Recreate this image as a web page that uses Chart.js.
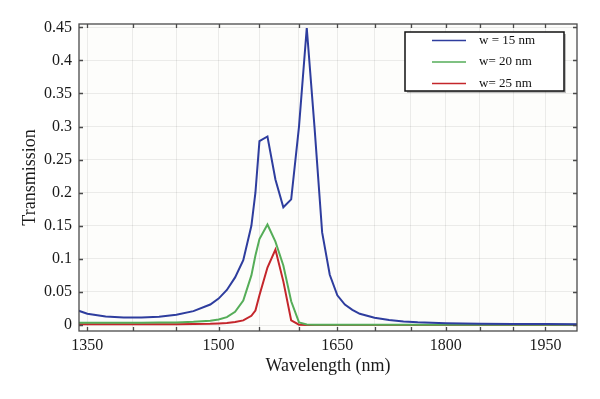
<!DOCTYPE html>
<html>
<head>
<meta charset="utf-8">
<script src="https://cdn.jsdelivr.net/npm/chart.js@4.4.0/dist/chart.umd.min.js"></script>
<style>
  html, body { margin: 0; padding: 0; background: #ffffff; }
  #wrap { width: 600px; height: 399px; }
</style>
</head>
<body>
<div id="wrap"><canvas id="myChart" width="600" height="399"></canvas></div>
<script>
// wavelength samples (nm)
let wavelengths = [1340, 1350, 1370, 1390, 1410, 1430, 1450, 1470, 1490, 1500, 1510, 1520, 1530, 1540, 1545,
    1550, 1560, 1570, 1580, 1590, 1600, 1610, 1620, 1630, 1640, 1650, 1660, 1670, 1680, 1700, 1720, 1740,
    1760, 1800, 1850, 1900, 1950, 2000];

let seriesNames = ['w = 15 nm', 'w= 20 nm', 'w= 25 nm'];

let trans15 = [0.022, 0.017, 0.013, 0.0115, 0.0115, 0.0125, 0.0155, 0.021, 0.031, 0.040, 0.053, 0.072, 0.098, 0.15, 0.20,
    0.278, 0.285, 0.22, 0.178, 0.19, 0.30, 0.449, 0.30, 0.14, 0.076, 0.045, 0.031, 0.023, 0.017, 0.011, 0.0075, 0.0055,
    0.0042, 0.0028, 0.002, 0.0016, 0.0014, 0.0012];

let trans20 = [0.0035, 0.0035, 0.0035, 0.0035, 0.0035, 0.0038, 0.004, 0.0048, 0.0065, 0.0085, 0.012, 0.02, 0.037, 0.075, 0.105,
    0.13, 0.152, 0.126, 0.09, 0.036, 0.004, 0.001, 0.0005, 0.0004, 0.0004, 0.0004, 0.0004, 0.0004, 0.0004, 0.0004, 0.0004, 0.0004,
    0.0004, 0.0004, 0.0004, 0.0004, 0.0004, 0.0004];

let trans25 = [0.0012, 0.0012, 0.0012, 0.0012, 0.0012, 0.0012, 0.0013, 0.0016, 0.002, 0.0025, 0.003, 0.0045, 0.007, 0.014, 0.022,
    0.045, 0.087, 0.114, 0.066, 0.007, 0.0005, 0.0002, 0.0002, 0.0002, 0.0002, 0.0002, 0.0002, 0.0002, 0.0002, 0.0002, 0.0002, 0.0002,
    0.0002, 0.0002, 0.0002, 0.0002, 0.0002, 0.0002];

let xTicks = [1350, 1400, 1450, 1500, 1550, 1600, 1650, 1700, 1750, 1800, 1850, 1900, 1950];
let xLabels = [1350, 1500, 1650, 1800, 1950];
let yTicks = [0, 0.05, 0.1, 0.15, 0.2, 0.25, 0.3, 0.35, 0.4, 0.45];
let yLabels = ['0', '0.05', '0.1', '0.15', '0.2', '0.25', '0.3', '0.35', '0.4', '0.45'];

let colors = ['#2e3d9e', '#55ad58', '#c4262b'];

function points(values){
    return wavelengths.map(function(w, i){ return {x: w, y: values[i]}; });
}

const serif = "'Liberation Serif', 'DejaVu Serif', serif";

// plot background, box, inward tick marks and the legend
const framePlugin = {
    id: 'frame',
    beforeDraw(chart){
        const a = chart.chartArea, ctx = chart.ctx;
        ctx.save();
        ctx.fillStyle = '#fdfdfb';
        ctx.fillRect(a.left, a.top, a.right - a.left, a.bottom - a.top);
        ctx.restore();
    },
    afterDraw(chart){
        const a = chart.chartArea, ctx = chart.ctx;
        const xs = chart.scales.x, ys = chart.scales.y;
        ctx.save();
        ctx.strokeStyle = '#4a4a4a';
        ctx.lineWidth = 1.3;
        ctx.strokeRect(a.left, a.top, a.right - a.left, a.bottom - a.top);
        ctx.beginPath();
        xTicks.forEach(function(v){
            let px = Math.round(xs.getPixelForValue(v)) + 0.5;
            ctx.moveTo(px, a.bottom); ctx.lineTo(px, a.bottom - 4);
            ctx.moveTo(px, a.top); ctx.lineTo(px, a.top + 4);
        });
        yTicks.forEach(function(v){
            let py = Math.round(ys.getPixelForValue(v)) + 0.5;
            ctx.moveTo(a.left, py); ctx.lineTo(a.left + 4, py);
            ctx.moveTo(a.right, py); ctx.lineTo(a.right - 4, py);
        });
        ctx.stroke();

        // legend box
        let bx = 405, by = 32, bw = 159, bh = 59;
        ctx.fillStyle = 'rgba(0,0,0,0.25)';
        ctx.fillRect(bx + 2, by + 2, bw, bh);
        ctx.fillStyle = '#ffffff';
        ctx.fillRect(bx, by, bw, bh);
        ctx.strokeStyle = '#111111';
        ctx.lineWidth = 1.5;
        ctx.strokeRect(bx, by, bw, bh);
        ctx.font = '13px ' + serif;
        ctx.textBaseline = 'middle';
        chart.data.datasets.forEach(function(ds, i){
            let ly = by + 8.5 + i * 21.5;
            ctx.strokeStyle = ds.borderColor;
            ctx.lineWidth = 1.5;
            ctx.beginPath();
            ctx.moveTo(bx + 27, ly); ctx.lineTo(bx + 61, ly);
            ctx.stroke();
            ctx.fillStyle = '#111111';
            ctx.fillText(ds.label, bx + 74, ly);
        });
        ctx.restore();
    }
};

let ctx = document.getElementById('myChart').getContext('2d');
let myChart = new Chart(ctx, {
    type: 'line',
    data: {
        datasets: [
            {label: seriesNames[0], data: points(trans15), borderColor: colors[0]},
            {label: seriesNames[1], data: points(trans20), borderColor: colors[1]},
            {label: seriesNames[2], data: points(trans25), borderColor: colors[2]}
        ]
    },
    options: {
        responsive: false,
        animation: false,
        layout: {padding: {top: 24, right: 23, left: 0, bottom: 0}},
        elements: {
            line: {borderWidth: 2, tension: 0, fill: false},
            point: {radius: 0}
        },
        plugins: {
            legend: {display: false},
            tooltip: {enabled: false}
        },
        scales: {
            x: {
                type: 'logarithmic',
                min: 1341,
                max: 2000,
                afterBuildTicks: function(scale){
                    scale.ticks = xTicks.map(function(v){ return {value: v}; });
                },
                afterFit: function(scale){ scale.height = 68; },
                grid: {color: 'rgba(0,0,0,0.07)', drawTicks: false},
                border: {display: false},
                ticks: {
                    autoSkip: false,
                    maxRotation: 0,
                    padding: 5,
                    color: '#1a1a1a',
                    font: {family: serif, size: 16},
                    callback: function(value){
                        return xLabels.indexOf(value) >= 0 ? String(value) : '';
                    }
                },
                title: {
                    display: true,
                    text: 'Wavelength (nm)',
                    color: '#1a1a1a',
                    font: {family: serif, size: 18},
                    padding: {top: 0, bottom: 22}
                }
            },
            y: {
                min: -0.009,
                max: 0.455,
                afterBuildTicks: function(scale){
                    scale.ticks = yTicks.map(function(v){ return {value: v}; });
                },
                afterFit: function(scale){ scale.width = 79; },
                grid: {color: 'rgba(0,0,0,0.07)', drawTicks: false},
                border: {display: false},
                ticks: {
                    padding: 7,
                    color: '#1a1a1a',
                    font: {family: serif, size: 16},
                    callback: function(value){
                        let i = yTicks.indexOf(value);
                        return i >= 0 ? yLabels[i] : '';
                    }
                },
                title: {
                    display: true,
                    text: 'Transmission',
                    color: '#1a1a1a',
                    font: {family: serif, size: 18},
                    padding: {top: 19, bottom: 0}
                }
            }
        }
    },
    plugins: [framePlugin]
});
</script>
</body>
</html>
